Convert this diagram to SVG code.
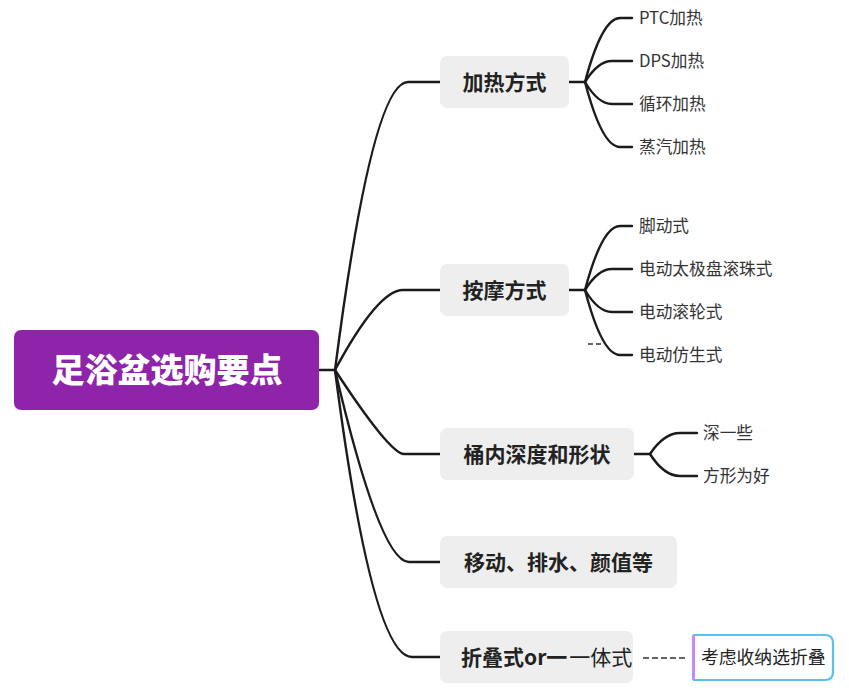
<svg xmlns="http://www.w3.org/2000/svg" width="849" height="690" viewBox="0 0 849 690">
<style>
.c{fill:none;stroke:#1b1b1b;stroke-width:2.4;stroke-linecap:round}
.box{fill:#eeeeee}
.t1{font-family:"Noto Sans CJK SC",sans-serif;font-weight:bold;font-size:21px;fill:#222}
.t2{font-family:"Noto Sans CJK SC",sans-serif;font-size:16.7px;fill:#333}
.root{font-family:"Noto Sans CJK SC",sans-serif;font-weight:900;font-size:33px;fill:#fff}
</style>
<rect x="0" y="0" width="849" height="690" fill="#ffffff"/>
<g id="connectors">
<path class="c" d="M319,370 L335,370"/>
<path class="c" d="M335,370 Q372,82 408,82 L440,82"/>
<path class="c" d="M335,370 Q378,290 403,290 L440,290"/>
<path class="c" d="M335,370 Q390,454 404,454 L440,454"/>
<path class="c" d="M335,370 Q380,562 409,562 L440,562"/>
<path class="c" d="M335,370 Q372,657 412,657 L440,657"/>
<path class="c" d="M569,82 L585,82"/>
<path class="c" d="M585,82 Q602,18 620,18 L632,18"/>
<path class="c" d="M585,82 Q598,61 612,61 L632,61"/>
<path class="c" d="M585,82 Q598,104 612,104 L632,104"/>
<path class="c" d="M585,82 Q602,147 620,147 L632,147"/>
<path class="c" d="M569,290 L585,290"/>
<path class="c" d="M585,290 Q602,226 620,226 L632,226"/>
<path class="c" d="M585,290 Q598,269 612,269 L632,269"/>
<path class="c" d="M585,290 Q598,312 612,312 L632,312"/>
<path class="c" d="M585,290 Q602,355 620,355 L632,355"/>
<path class="c" d="M634,454 L650,454"/>
<path class="c" d="M650,454 Q664,433 680,433 L697,433"/>
<path class="c" d="M650,454 Q664,476 680,476 L697,476"/>
<path d="M588,344 L593,344 M596,344 L601,344" stroke="#333" stroke-width="1.3" fill="none"/>
<path d="M643,658 L686,658" stroke="#333" stroke-width="1.5" stroke-dasharray="6,3" fill="none"/>
</g>
<g id="root">
<rect x="14" y="330" width="305" height="80" rx="7" fill="#8e24aa"/>
<text class="root" x="167" y="382" text-anchor="middle">足浴盆选购要点</text>
</g>
<g id="n-heat">
<rect class="box" x="440" y="56" width="129" height="52" rx="7"/>
<text class="t1" x="504.5" y="89.5" text-anchor="middle">加热方式</text>
</g>
<g id="n-massage">
<rect class="box" x="440" y="264" width="129" height="52" rx="7"/>
<text class="t1" x="504.5" y="297.5" text-anchor="middle">按摩方式</text>
</g>
<g id="n-depth">
<rect class="box" x="440" y="428" width="194" height="52" rx="7"/>
<text class="t1" x="537" y="461.5" text-anchor="middle">桶内深度和形状</text>
</g>
<g id="n-move">
<rect class="box" x="440" y="536" width="237" height="52" rx="7"/>
<text class="t1" x="558.5" y="569.5" text-anchor="middle">移动、排水、颜值等</text>
</g>
<g id="n-fold">
<rect class="box" x="440" y="631" width="193" height="52" rx="7"/>
<text class="t1" x="461" y="665"><tspan>折叠式or一</tspan><tspan dx="2" style="font-weight:normal;font-size:21px">一体式</tspan></text>
</g>
<g id="heat-children">
<text class="t2" x="639" y="24">PTC加热</text>
<text class="t2" x="639" y="67">DPS加热</text>
<text class="t2" x="639" y="110">循环加热</text>
<text class="t2" x="639" y="153">蒸汽加热</text>
</g>
<g id="massage-children">
<text class="t2" x="639" y="232">脚动式</text>
<text class="t2" x="639" y="275">电动太极盘滚珠式</text>
<text class="t2" x="639" y="318">电动滚轮式</text>
<text class="t2" x="639" y="361">电动仿生式</text>
</g>
<g id="depth-children">
<text class="t2" x="703" y="439">深一些</text>
<text class="t2" x="703" y="482">方形为好</text>
</g>
<g id="callout">
<path d="M693,635 L825,635 Q833,635 833,643 L833,672 Q833,680 825,680 L693,680" fill="#fff" stroke="#5bc0eb" stroke-width="2.2"/>
<rect x="692" y="635" width="3" height="45" fill="#c58af9"/>
<text class="t2" x="701" y="664" style="font-size:17.8px;fill:#222">考虑收纳选折叠</text>
</g>
</svg>
